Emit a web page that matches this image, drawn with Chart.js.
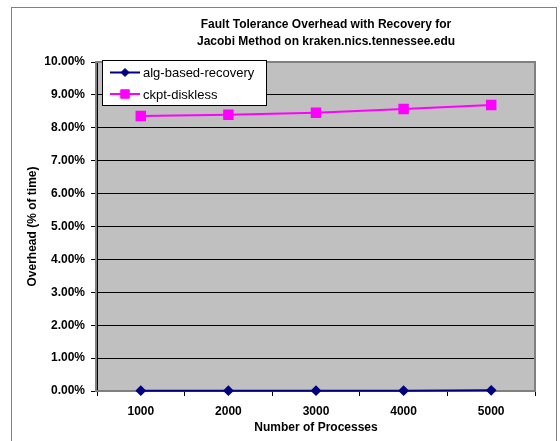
<!DOCTYPE html>
<html>
<head>
<meta charset="utf-8">
<script src="https://cdn.jsdelivr.net/npm/chart.js@4/dist/chart.umd.min.js"></script>
<style>
  html, body { margin: 0; padding: 0; background: #fff; }
  #wrap { width: 560px; height: 441px; position: relative; }
</style>
</head>
<body>
<div id="wrap"><canvas id="c" width="560" height="441"></canvas></div>
<script>
// Number of processes on the x axis
const processes = ['1000', '2000', '3000', '4000', '5000'];
// Overhead in percent of run time
const algBasedRecovery = [0.01, 0.01, 0.01, 0.01, 0.02];
const ckptDiskless = [8.36, 8.40, 8.46, 8.57, 8.69];
const seriesNames = ['alg-based-recovery', 'ckpt-diskless'];
const titleLines = ['Fault Tolerance Overhead with Recovery for', 'Jacobi Method on kraken.nics.tennessee.edu'];
const xAxisTitle = 'Number of Processes';
const yAxisTitle = 'Overhead (% of time)';

const FONT = 'Liberation Sans, Arial, sans-serif';

// Grey plot background, frame, header text and the boxed legend
const decorations = {
  id: 'decorations',
  beforeDraw(chart) {
    const ctx = chart.ctx;
    const a = chart.chartArea;
    ctx.save();
    ctx.fillStyle = '#c0c0c0';
    ctx.fillRect(a.left, a.top, a.right - a.left, a.bottom - a.top);
    ctx.restore();
  },
  beforeDatasetsDraw(chart) {
    const ctx = chart.ctx;
    const a = chart.chartArea;
    ctx.save();
    ctx.strokeStyle = '#808080';
    ctx.lineWidth = 2;
    ctx.strokeRect(a.left - 1, a.top, a.right - a.left + 1, a.bottom - a.top);
    ctx.restore();
  },
  afterDraw(chart) {
    const ctx = chart.ctx;
    ctx.save();
    // outer frame
    ctx.strokeStyle = '#808080';
    ctx.lineWidth = 1;
    ctx.strokeRect(11.5, 7.5, 545, 450);

    // header
    ctx.fillStyle = '#000';
    ctx.font = 'bold 12px ' + FONT;
    ctx.textAlign = 'center';
    ctx.textBaseline = 'middle';
    titleLines.forEach((t, i) => ctx.fillText(t, 326, 25 + i * 17));

    // legend box
    const bx = 102.5, by = 60.5, bw = 164, bh = 45;
    ctx.fillStyle = '#fff';
    ctx.fillRect(bx, by, bw, bh);
    ctx.strokeStyle = '#000';
    ctx.lineWidth = 1;
    ctx.strokeRect(bx, by, bw, bh);

    ctx.font = '13px ' + FONT;
    ctx.textAlign = 'left';
    chart.data.datasets.forEach((ds, i) => {
      const y = 72.5 + i * 21.5;
      ctx.strokeStyle = ds.borderColor;
      ctx.lineWidth = 2;
      ctx.beginPath();
      ctx.moveTo(110, y);
      ctx.lineTo(140, y);
      ctx.stroke();
      ctx.fillStyle = ds.pointBackgroundColor;
      ctx.strokeStyle = ds.pointBorderColor;
      ctx.lineWidth = 1;
      Chart.helpers.drawPoint(ctx, {
        pointStyle: ds.pointStyle,
        radius: ds.pointRadius,
        borderWidth: 1,
        rotation: 0
      }, 125, y);
      ctx.fillStyle = '#000';
      ctx.fillText(ds.label, 143, y + 1);
    });
    ctx.restore();
  }
};

const boldFont = { family: FONT, size: 12, weight: 'bold' };

new Chart(document.getElementById('c'), {
  type: 'line',
  data: {
    labels: processes,
    datasets: [
      {
        label: seriesNames[0],
        data: algBasedRecovery,
        borderColor: '#000080',
        backgroundColor: '#000080',
        pointBackgroundColor: '#000080',
        pointBorderColor: '#000080',
        pointStyle: 'rectRot',
        pointRadius: 4,
        borderWidth: 2,
        tension: 0,
        clip: false
      },
      {
        label: seriesNames[1],
        data: ckptDiskless,
        borderColor: '#ff00ff',
        backgroundColor: '#ff00ff',
        pointBackgroundColor: '#ff00ff',
        pointBorderColor: '#ff00ff',
        pointStyle: 'rect',
        pointRadius: 6,
        borderWidth: 2,
        tension: 0,
        clip: false
      }
    ]
  },
  options: {
    responsive: false,
    animation: false,
    devicePixelRatio: 1,
    layout: { padding: { left: 0, right: 25, top: 62, bottom: 0 } },
    plugins: {
      legend: { display: false },
      title: { display: false },
      tooltip: { enabled: false }
    },
    scales: {
      x: {
        offset: true,
        grid: {
          offset: true,
          drawOnChartArea: false,
          drawTicks: true,
          tickLength: 5,
          color: '#000',
          tickColor: '#000'
        },
        border: { display: true, color: '#000' },
        ticks: {
          color: '#000',
          font: boldFont,
          padding: 8,
          maxRotation: 0
        },
        title: {
          display: true,
          text: xAxisTitle,
          color: '#000',
          font: boldFont,
          padding: { top: 0, bottom: 6 }
        },
        afterFit(scale) { scale.height = 50; }
      },
      y: {
        min: 0,
        max: 10,
        grid: {
          color: '#000',
          tickColor: '#000',
          tickLength: 6,
          lineWidth: 1
        },
        border: { display: true, color: '#000' },
        ticks: {
          stepSize: 1,
          color: '#000',
          font: boldFont,
          padding: 6,
          callback: v => v.toFixed(2) + '%'
        },
        title: {
          display: true,
          text: yAxisTitle,
          color: '#000',
          font: boldFont,
          padding: { top: 25, bottom: 0 }
        },
        afterFit(scale) { scale.width = 97; }
      }
    }
  },
  plugins: [decorations]
});
</script>
</body>
</html>
